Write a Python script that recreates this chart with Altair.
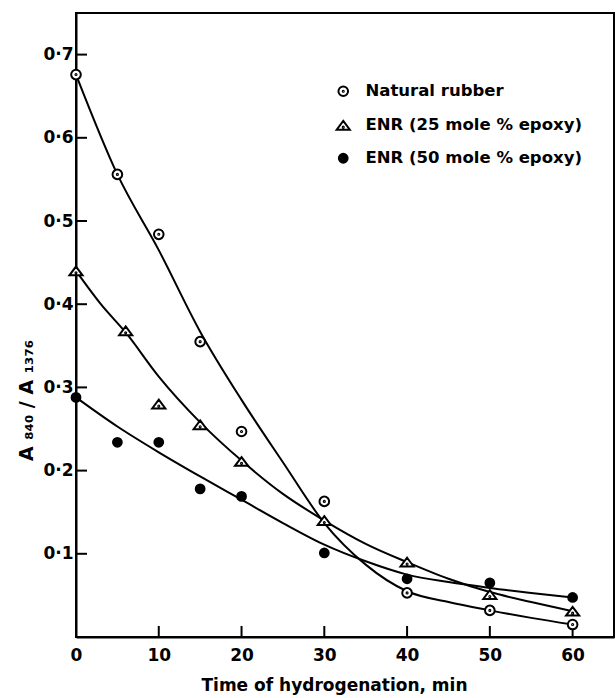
import altair as alt
import pandas as pd

# ---- data ----
series_names = ["Natural rubber", "ENR (25 mole % epoxy)", "ENR (50 mole % epoxy)"]

nr_x = [0, 5, 10, 15, 20, 30, 40, 50, 60]
nr_y = [0.676, 0.556, 0.484, 0.355, 0.247, 0.163, 0.053, 0.032, 0.015]

enr25_x = [0, 6, 10, 15, 20, 30, 40, 50, 60]
enr25_y = [0.440, 0.368, 0.280, 0.255, 0.211, 0.140, 0.090, 0.051, 0.031]

enr50_x = [0, 5, 10, 15, 20, 30, 40, 50, 60]
enr50_y = [0.288, 0.234, 0.234, 0.178, 0.169, 0.101, 0.070, 0.065, 0.0475]

# fitted curves
nr_curve_x = [0, 5, 10, 15, 20, 25, 30, 35, 40, 45, 50, 55, 60]
nr_curve_y = [0.676, 0.556, 0.465, 0.367, 0.285, 0.210, 0.137, 0.087, 0.055, 0.042, 0.032, 0.023, 0.015]

enr25_curve_x = [0, 3, 6, 10, 15, 20, 25, 30, 35, 40, 45, 50, 55, 60]
enr25_curve_y = [0.440, 0.400, 0.366, 0.313, 0.258, 0.212, 0.172, 0.140, 0.112, 0.090, 0.070, 0.054, 0.042, 0.031]

enr50_curve_x = [0, 5, 10, 15, 20, 25, 30, 35, 40, 45, 50, 55, 60]
enr50_curve_y = [0.288, 0.253, 0.222, 0.193, 0.165, 0.137, 0.111, 0.091, 0.075, 0.066, 0.059, 0.053, 0.0475]

x_tick_values = [0, 10, 20, 30, 40, 50, 60]
x_inner_ticks = [10, 20, 30, 40, 50, 60]
y_tick_values = [0.1, 0.2, 0.3, 0.4, 0.5, 0.6, 0.7]

# ---- tables ----
pts = pd.concat([
    pd.DataFrame({"x": nr_x, "y": nr_y, "s": series_names[0]}),
    pd.DataFrame({"x": enr25_x, "y": enr25_y, "s": series_names[1]}),
    pd.DataFrame({"x": enr50_x, "y": enr50_y, "s": series_names[2]}),
])
curves = pd.concat([
    pd.DataFrame({"x": nr_curve_x, "y": nr_curve_y, "s": series_names[0]}),
    pd.DataFrame({"x": enr25_curve_x, "y": enr25_curve_y, "s": series_names[1]}),
    pd.DataFrame({"x": enr50_curve_x, "y": enr50_curve_y, "s": series_names[2]}),
])
xt = pd.DataFrame({"t": x_inner_ticks})
yt = pd.DataFrame({"t": y_tick_values})

W, H = 538, 624
FONT = "DejaVu Sans"

ring = ("M-0.88,0A0.88,0.88 0 1,0 0.88,0A0.88,0.88 0 1,0 -0.88,0Z"
        "M-0.1,0A0.1,0.1 0 1,0 0.1,0A0.1,0.1 0 1,0 -0.1,0Z")
tri = ("M0,-0.8L1.2,0.8L-1.2,0.8Z"
       "M-0.1,0.35A0.1,0.1 0 1,0 0.1,0.35A0.1,0.1 0 1,0 -0.1,0.35Z")
dot = "M-0.8,0A0.8,0.8 0 1,0 0.8,0A0.8,0.8 0 1,0 -0.8,0Z"

xscale = alt.Scale(domain=[0, 65], nice=False, zero=False)
yscale = alt.Scale(domain=[0, 0.75], nice=False, zero=False)

xaxis = alt.Axis(values=x_tick_values, tickSize=0, labelPadding=10, labelFontSize=17,
                 labelFontWeight="bold", labelFont=FONT, labelColor="black", labelFlush=False,
                 domainColor="black", domainWidth=2, grid=False,
                 title="Time of hydrogenation, min", titleFont=FONT, titleFontSize=17,
                 titleFontWeight="bold", titleColor="black", titleX=258, titleY=48,
                 titleBaseline="middle")
yaxis = alt.Axis(values=y_tick_values, tickSize=0, labelPadding=3, labelFontSize=17,
                 labelFontWeight="bold", labelFont=FONT, labelColor="black", labelFlush=False,
                 labelExpr="replace(format(datum.value, '.1f'), '.', '·')",
                 domainColor="black", domainWidth=2, grid=False,
                 title="A ₈₄₀ / A ₁₃₇₆", titleFont=FONT, titleFontSize=19,
                 titleFontWeight="bold", titleColor="black", titleAngle=270,
                 titleX=-50, titleY=387, titleAlign="center", titleBaseline="middle")

legend = alt.Legend(
    title=None, orient="none", legendX=259, legendY=70,
    labelFont=FONT, labelFontSize=16.5, labelFontWeight="bold", labelColor="black",
    labelLimit=0, symbolSize=120, rowPadding=15, labelOffset=14,
    symbolStrokeWidth=2, symbolOpacity=1,
)

lines = alt.Chart(curves).mark_line(color="black", strokeWidth=2, interpolate="monotone").encode(
    x=alt.X("x:Q", scale=xscale, axis=xaxis),
    y=alt.Y("y:Q", scale=yscale, axis=yaxis),
    detail="s:N",
)

points = alt.Chart(pts).mark_point(filled=False, strokeWidth=2, opacity=1).encode(
    x=alt.X("x:Q", scale=xscale),
    y=alt.Y("y:Q", scale=yscale),
    shape=alt.Shape("s:N", scale=alt.Scale(domain=series_names, range=[ring, tri, dot]),
                    legend=legend),
    fill=alt.Fill("s:N", scale=alt.Scale(domain=series_names, range=["white", "white", "black"]),
                  legend=legend),
    stroke=alt.Stroke("s:N", scale=alt.Scale(domain=series_names, range=["black", "black", "black"]),
                      legend=legend),
    size=alt.value(120),
)

xticks = alt.Chart(xt).mark_rule(color="black", strokeWidth=2).encode(
    x=alt.X("t:Q", scale=xscale),
    y=alt.value(H), y2=alt.value(H - 11),
)
yticks = alt.Chart(yt).mark_rule(color="black", strokeWidth=2).encode(
    y=alt.Y("t:Q", scale=yscale),
    x=alt.value(0), x2=alt.value(11),
)

chart = alt.layer(lines, xticks, yticks, points).properties(
    width=W, height=H,
    autosize=alt.AutoSizeParams(type="none"),
    padding={"left": 76, "top": 13, "right": 2, "bottom": 61},
    background="white",
).configure_view(stroke="black", strokeWidth=2).configure_point(fillOpacity=1)

chart.save("out.html", embed_options={"renderer": "svg", "actions": False})
